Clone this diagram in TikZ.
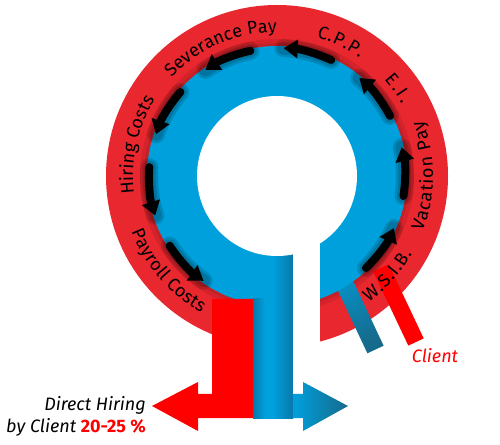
\documentclass[tikz,border=0pt]{standalone}
\usepackage{fontspec}
\setmainfont{Fira Sans}
\usetikzlibrary{positioning, arrows.meta, decorations.text}

\definecolor{ringred}{HTML}{E8272F}
\definecolor{barred}{HTML}{FF0000}
\definecolor{ringblue}{HTML}{00A0DC}
\definecolor{deepblue}{HTML}{166A8B}
\definecolor{stemdark}{HTML}{0878AA}

\newcommand{\ringfont}{\fontsize{18}{18}\selectfont}

\begin{document}
\begin{tikzpicture}[x=1pt, y=1pt,
    flow/.style={line width=8pt, line cap=round, -{Triangle[width=18pt, length=14pt]}},
    halo/.style={line width=#1, line cap=round, black, opacity=.14},
    ringlabel/.style={decorate, decoration={text along path, text align={fit to path}, text={|\ringfont|#1}}},
    sidelabel/.style={font=\fontsize{18}{18}\selectfont\itshape},
]
\useasboundingbox (0,0) rectangle (500,444);
\coordinate (ctr) at (277,268);

% outer red ring and its inner shadow
\fill[ringred] (ctr) circle[radius=171];
\fill[black, opacity=.08] (ctr) circle[radius=137];
\fill[black, opacity=.08] (ctr) circle[radius=133];

% blue leg going out to the client
\shade[top color=ringblue, bottom color=deepblue, shading angle=25]
    (367.4,90.7) -- (383.6,98.3) -- (336.7,197.9) -- (320.5,190.3) -- cycle;

% blue ring
\fill[ringblue] (ctr) circle[radius=130];

% red leg of the client
\fill[barred] (373.3,172.4) -- (388.7,179.6) -- (423.7,105.6) -- (408.3,98.4) -- cycle;

% blue stem, darker towards the gap and under the red bar
\shade[left color=ringblue, right color=stemdark, middle color=ringblue]
    (253,26) rectangle (293,200);
\shade[left color=stemdark, right color=ringblue] (253,26) rectangle (265,145);

% white gap and hole
\fill[white] (293,50) rectangle (320,268);
\fill[white] (ctr) circle[radius=80];

% red arrow to the left
\fill[barred] (212,145) -- (253,145) -- (253,26) -- (198,26) -- (198,13)
    -- (152,38) -- (198,62) -- (198,50) -- (212,50) -- cycle;

% blue arrow to the right
\shade[left color=ringblue, right color=deepblue]
    (293,26) -- (293,50) -- (303,50) -- (303,62) -- (348,38) -- (303,13)
    -- (303,26) -- cycle;

% cost cycle
\foreach \a in {-46,-9,...,213} {
  \draw[halo=18pt] ([shift={(\a:128)}]ctr) arc[start angle=\a, delta angle=22, radius=128];
  \draw[halo=13pt] ([shift={(\a:128)}]ctr) arc[start angle=\a, delta angle=22, radius=128];
  \draw[flow] ([shift={(\a:128)}]ctr) arc[start angle=\a, delta angle=22, radius=128];
}

% labels on the ring
\path[ringlabel={Severance Pay}] ([shift={(137:144)}]ctr) arc[start angle=137, end angle=90, radius=144];
\path[ringlabel={C.P.P.}] ([shift={(74:144)}]ctr) arc[start angle=74, end angle=55, radius=144];
\path[ringlabel={E.I.}] ([shift={(42:144)}]ctr) arc[start angle=42, end angle=30, radius=144];
\path[ringlabel={Hiring Costs}] ([shift={(187:144)}]ctr) arc[start angle=187, end angle=148, radius=144];
\path[ringlabel={Vacation Pay}] ([shift={(-21:156)}]ctr) arc[start angle=-21, end angle=21, radius=156];
\path[ringlabel={W.S.I.B.}] ([shift={(-54:156)}]ctr) arc[start angle=-54, end angle=-30, radius=156];
\path[ringlabel={Payroll Costs}] ([shift={(201:156)}]ctr) arc[start angle=201, end angle=241, radius=156];

% side texts
\node[sidelabel, text=barred] (client) at (435,88) {Client};
\node[sidelabel, anchor=base east, inner sep=0pt] (direct) at (146,34) {Direct Hiring};
\node[sidelabel, anchor=base east, inner sep=0pt] (byclient) at (146,12)
    {by Client \textcolor{barred}{\upshape\bfseries 20-25 \%}};
\end{tikzpicture}
\end{document}
